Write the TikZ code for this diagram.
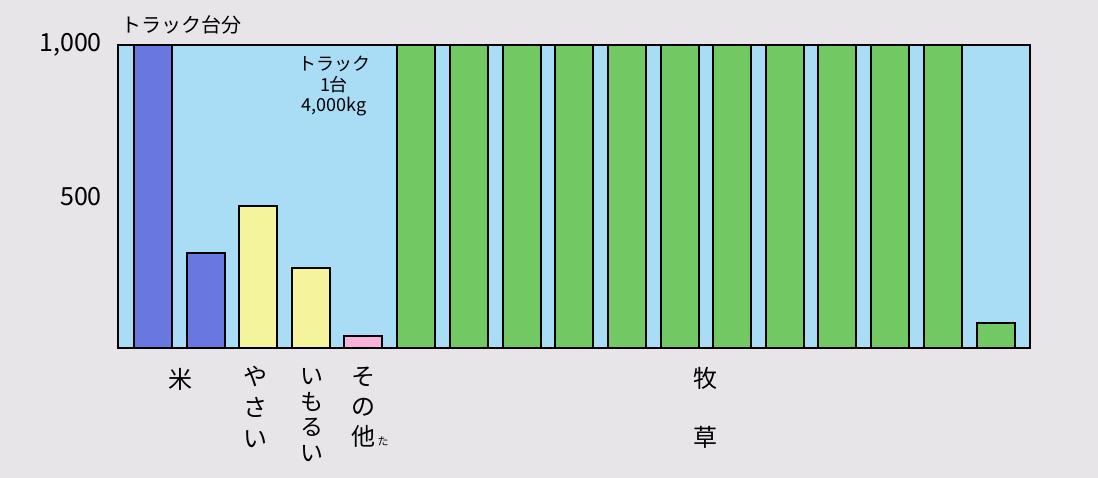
\documentclass[tikz,border=0pt]{standalone}
\usepackage{fontspec}
\setmainfont{Noto Sans CJK JP}
\definecolor{bgc}{HTML}{E7E5E8}
\definecolor{sky}{HTML}{A9DDF5}
\definecolor{bluebar}{HTML}{6878E0}
\definecolor{greenbar}{HTML}{72C862}
\definecolor{yellowbar}{HTML}{F4F49C}
\definecolor{pinkbar}{HTML}{F8B2DA}
\tikzset{
  barbox/.style={draw=black, line width=1.6pt},
  axlbl/.style={font=\fontsize{25}{30}\selectfont, inner sep=0pt, anchor=east},
  catlbl/.style={font=\fontsize{24}{30}\selectfont, inner sep=0pt, align=center},
}
\begin{document}
\begin{tikzpicture}[x=1pt,y=-1pt]
\useasboundingbox (0,0) rectangle (1098,478);
\fill[bgc] (0,0) rectangle (1098,478);
% chart area
\fill[sky] (118,45) rectangle (1030,348);
% bars (value v -> y = 348 - 0.303 v)
\draw[barbox, fill=bluebar] (134,348) rectangle (172,45);
\draw[barbox, fill=bluebar] (187,348) rectangle (225,253);
\draw[barbox, fill=yellowbar] (239,348) rectangle (277,206);
\draw[barbox, fill=yellowbar] (292,348) rectangle (330,268);
\draw[barbox, fill=pinkbar] (344,348) rectangle (382,336);
\foreach \x in {397,450,503,555,608,661,713,766,818,871,924}
  \draw[barbox, fill=greenbar] (\x,348) rectangle (\x+38,45);
\draw[barbox, fill=greenbar] (977,348) rectangle (1015,323);
% frame
\draw[line width=1.4pt] (118,45) rectangle (1030,348);
% axis labels
\node[axlbl] (y1000) at (102,45) {1,000};
\node[axlbl] (y500) at (102,197) {500};
\node[font=\fontsize{20}{24}\selectfont, inner sep=0pt, anchor=west] (unit) at (121,25) {トラック台分};
\node[font=\fontsize{18}{20.5}\selectfont, inner sep=0pt, align=center] (note) at (334,86) {トラック\\1台\\4,000kg};
% category labels
\node[catlbl] (kome) at (180,379) {米};
\node[catlbl, font=\fontsize{24}{31}\selectfont] (yasai) at (255,407) {や\\さ\\い};
\node[catlbl, font=\fontsize{23}{25.5}\selectfont] (imorui) at (312,415) {い\\も\\る\\い};
\node[catlbl, font=\fontsize{24}{30}\selectfont] (sonota) at (363,407) {そ\\の\\他};
\node[font=\fontsize{11}{12}\selectfont, inner sep=0pt] (ta) at (383,441) {た};
\node[catlbl] (boku) at (705,378) {牧};
\node[catlbl] (kusa) at (705,437) {草};
\end{tikzpicture}
\end{document}
